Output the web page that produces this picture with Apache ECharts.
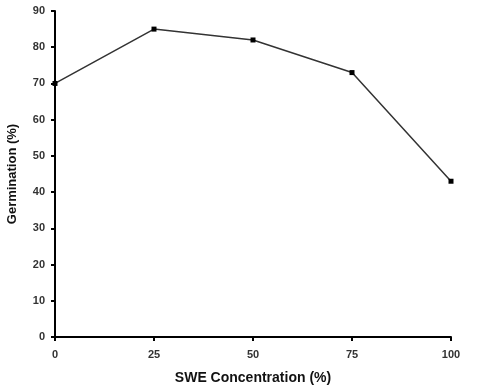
<!DOCTYPE html>
<html>
<head>
<meta charset="utf-8">
<script src="https://cdn.jsdelivr.net/npm/echarts@6/dist/echarts.min.js"></script>
<style>
  html, body { margin: 0; padding: 0; background: #fff; }
  #chart { width: 484px; height: 385px; }
</style>
</head>
<body>
<div id="chart"></div>
<script>
// SWE concentration (%) vs germination (%)
const concentrations = [0, 25, 50, 75, 100];
const germination = [70, 85, 82, 73, 43];
const xTicks = [0, 25, 50, 75, 100];
const yTicks = [0, 10, 20, 30, 40, 50, 60, 70, 80, 90];

const chart = echarts.init(document.getElementById('chart'));

const axisFont = {
  fontFamily: 'Liberation Sans, Arial, sans-serif',
  fontSize: 11,
  fontWeight: 'bold',
  color: '#333'
};

chart.setOption({
  animation: false,
  grid: { left: 55, right: 33, top: 11, bottom: 48, outerBoundsMode: 'none' },
  xAxis: {
    type: 'value',
    min: xTicks[0],
    max: xTicks[xTicks.length - 1],
    interval: 25,
    name: 'SWE Concentration (%)',
    nameLocation: 'middle',
    nameGap: 34,
    nameTextStyle: { fontFamily: 'Liberation Sans, Arial, sans-serif', fontSize: 14, fontWeight: 'bold', color: '#111' },
    axisLine: { lineStyle: { color: '#000', width: 2 } },
    axisTick: { length: 4, lineStyle: { color: '#000', width: 2 } },
    axisLabel: Object.assign({ margin: 12 }, axisFont),
    splitLine: { show: false }
  },
  yAxis: {
    type: 'value',
    min: yTicks[0],
    max: yTicks[yTicks.length - 1],
    interval: 10,
    name: 'Germination (%)',
    nameLocation: 'middle',
    nameGap: 36,
    nameTextStyle: { fontFamily: 'Liberation Sans, Arial, sans-serif', fontSize: 13, fontWeight: 'bold', color: '#111' },
    axisLine: { show: true, lineStyle: { color: '#000', width: 2 } },
    axisTick: { show: true, length: 4, lineStyle: { color: '#000', width: 2 } },
    axisLabel: Object.assign({ margin: 10 }, axisFont),
    splitLine: { show: false }
  },
  series: [{
    type: 'line',
    data: concentrations.map((c, i) => [c, germination[i]]),
    symbol: 'rect',
    symbolSize: 5,
    itemStyle: { color: '#000' },
    lineStyle: { color: '#333', width: 1.5 }
  }]
});
</script>
</body>
</html>
